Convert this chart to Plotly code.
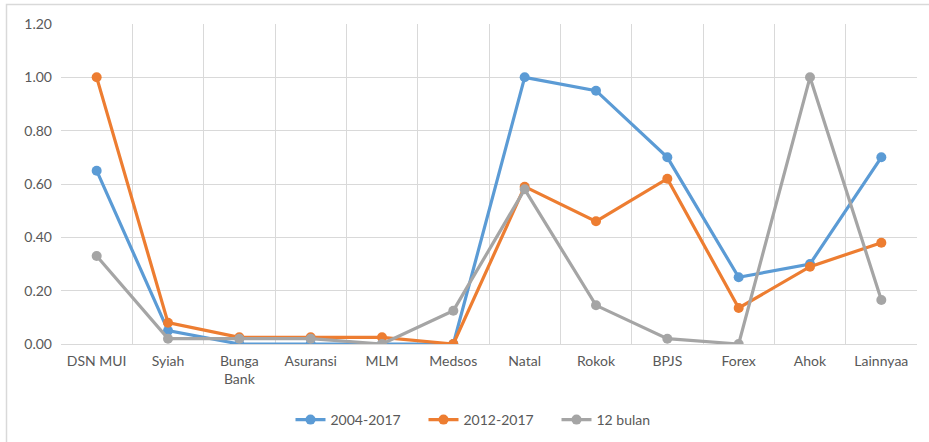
import plotly.graph_objects as go

categories = ["DSN MUI", "Syiah", "Bunga<br>Bank", "Asuransi", "MLM", "Medsos",
              "Natal", "Rokok", "BPJS", "Forex", "Ahok", "Lainnyaa"]
s2004_2017 = [0.65, 0.05, 0.00, 0.00, 0.00, 0.00, 1.00, 0.95, 0.70, 0.25, 0.30, 0.70]
s2012_2017 = [1.00, 0.08, 0.025, 0.025, 0.025, 0.00, 0.59, 0.46, 0.62, 0.135, 0.29, 0.38]
s12_bulan = [0.33, 0.02, 0.02, 0.02, 0.00, 0.125, 0.58, 0.145, 0.02, 0.00, 1.00, 0.165]
series_names = ["2004-2017", "2012-2017", "12 bulan"]
yticks = [0.0, 0.2, 0.4, 0.6, 0.8, 1.0, 1.2]

colors = ["#5B9BD5", "#ED7D31", "#A5A5A5"]
font = "Lato, 'Open Sans', sans-serif"

fig = go.Figure()
for name, vals, c in zip(series_names, [s2004_2017, s2012_2017, s12_bulan], colors):
    fig.add_trace(go.Scatter(
        x=categories, y=vals, name=name, mode="lines+markers",
        line=dict(color=c, width=3.2), marker=dict(color=c, size=10),
    ))

W, H = 929, 442
ml, mr, mt, mb = 61, 12, 24, 98
pw, ph = W - ml - mr, H - mt - mb

def px_x(x):
    return (x - ml) / pw

def px_y(y):
    return (H - mb - y) / ph

fig.add_shape(type="rect", xref="paper", yref="paper",
              x0=px_x(6.5), x1=px_x(940), y0=px_y(4.5), y1=px_y(460),
              line=dict(color="#d9d9d9", width=1.5), layer="below")

fig.update_layout(
    width=W, height=H,
    margin=dict(l=ml, r=mr, t=mt, b=mb, autoexpand=False),
    paper_bgcolor="white", plot_bgcolor="white",
    font=dict(family=font, size=14, color="#595959"),
    showlegend=True,
    legend=dict(orientation="h", x=px_x(490), xanchor="center", y=px_y(420), yanchor="middle",
                font=dict(size=14, color="#595959"), tracegroupgap=0,
                entrywidth=88, entrywidthmode="pixels"),
    xaxis=dict(type="category", range=[-0.5, 11.5], tickson="boundaries",
               showgrid=True, gridcolor="#d9d9d9", gridwidth=1, automargin=False,
               showline=True, linecolor="#d9d9d9", ticks="", tickfont=dict(size=14),
               ticklabelstandoff=4, mirror=False),
    yaxis=dict(range=[0, 1.2], tickvals=yticks, tickformat=".2f", automargin=False,
               showgrid=True, gridcolor="#d9d9d9", gridwidth=1, zeroline=False,
               showline=False, ticks="", tickfont=dict(size=14), ticklabelstandoff=8),
)

fig.write_html("out.html", config={"displayModeBar": False},
               post_script="document.body.style.margin='0px';document.body.style.overflow='hidden';")
